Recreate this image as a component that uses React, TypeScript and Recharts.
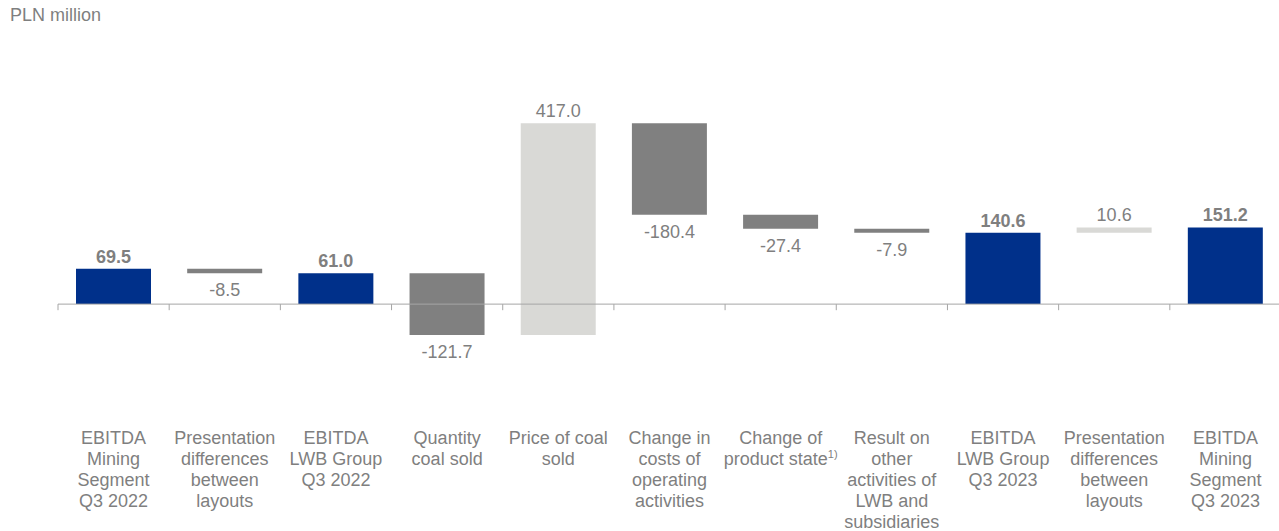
import React from 'react'
import { BarChart, Bar, XAxis, YAxis, ReferenceLine, Cell } from 'recharts'

const categories: string[][] = [
  ['EBITDA', 'Mining', 'Segment', 'Q3 2022'],
  ['Presentation', 'differences', 'between', 'layouts'],
  ['EBITDA', 'LWB Group', 'Q3 2022'],
  ['Quantity', 'coal sold'],
  ['Price of coal', 'sold'],
  ['Change in', 'costs of', 'operating', 'activities'],
  ['Change of', 'product state'],
  ['Result on', 'other', 'activities of', 'LWB and', 'subsidiaries'],
  ['EBITDA', 'LWB Group', 'Q3 2023'],
  ['Presentation', 'differences', 'between', 'layouts'],
  ['EBITDA', 'Mining', 'Segment', 'Q3 2023'],
]
const values = [69.5, -8.5, 61.0, -121.7, 417.0, -180.4, -27.4, -7.9, 140.6, 10.6, 151.2]
const isTotal = [true, false, true, false, false, false, false, false, true, false, true]
// footnote marker appended to a category's last line
const footnotes = ['', '', '', '', '', '', '1)', '', '', '', '']

const NAVY = '#00308a'
const DOWN = '#808080'
const UP = '#d9d9d6'
const TEXT = '#7f7f7f'
const FONT = '"Liberation Sans", Arial, sans-serif'

// build waterfall ranges from the values
let running = 0
const rows = values.map((v, i) => {
  let range: [number, number]
  if (isTotal[i]) {
    range = [0, v]
    running = v
  } else {
    range = [Math.min(running, running + v), Math.max(running, running + v)]
    running += v
  }
  return { name: String(i), pos: i + 0.5, range, value: v, total: isTotal[i] }
})

const boundaries = [...categories.map((_, i) => i), categories.length]

const CategoryTick = (props: any) => {
  const { x, y, payload } = props
  const i = Number(payload.value)
  const lines = categories[i]
  return (
    <text x={x} y={y} textAnchor="middle" fill={TEXT} fontSize={18} fontFamily={FONT}>
      {lines.map((l, k) => (
        <tspan key={k} x={x} dy={k === 0 ? 71 : 21}>
          {l}
          {k === lines.length - 1 && footnotes[i] ? (
            <tspan fontSize={11} dy={-7}>{footnotes[i]}</tspan>
          ) : null}
        </tspan>
      ))}
    </text>
  )
}

const renderLabel = (props: any) => {
  const { x, y, width, height, index } = props
  const r = rows[index]
  const top = Math.min(y, y + height)
  const bottom = Math.max(y, y + height)
  const above = r.total || r.value > 0
  return (
    <text
      x={x + width / 2}
      y={above ? top - 6 : bottom + 23}
      textAnchor="middle"
      fill={TEXT}
      fontSize={18}
      fontWeight={r.total ? 'bold' : 'normal'}
      fontFamily={FONT}
    >
      {r.value.toFixed(1)}
    </text>
  )
}

export default function App() {
  return (
    <div style={{ position: 'absolute', left: 0, top: 0, width: 1279, height: 531, overflow: 'hidden', background: '#fff', fontFamily: FONT }}>
      <div style={{ position: 'absolute', left: 10, top: 5, fontSize: 18, color: TEXT }}>PLN million</div>
      <BarChart
        width={1281}
        height={531}
        data={rows}
        margin={{ top: 91, right: 0, bottom: 0, left: 58 }}
        barSize={75}
      >
        <XAxis xAxisId="cat" dataKey="name" height={166} axisLine={false} tickLine={false} interval={0} tick={<CategoryTick />} />
        <XAxis
          xAxisId="num"
          dataKey="pos"
          type="number"
          scale="linear"
          domain={[0, categories.length]}
          allowDataOverflow
          padding={{ left: 0, right: 0 }}
          hide
        />
        <YAxis domain={[-120, 420]} hide allowDataOverflow />
        <ReferenceLine xAxisId="num" y={0} stroke="#a6a6a6" strokeWidth={1} />
        {boundaries.map((b) => (
          <ReferenceLine
            key={b}
            xAxisId="num"
            segment={[{ x: b, y: 0 }, { x: b, y: -12 }]}
            stroke="#a6a6a6"
            strokeWidth={1}
            ifOverflow="visible"
          />
        ))}
        <Bar xAxisId="cat" dataKey="range" isAnimationActive={false} label={renderLabel}>
          {rows.map((r, i) => (
            <Cell key={i} fill={r.total ? NAVY : r.value < 0 ? DOWN : UP} />
          ))}
        </Bar>
      </BarChart>
    </div>
  )
}
